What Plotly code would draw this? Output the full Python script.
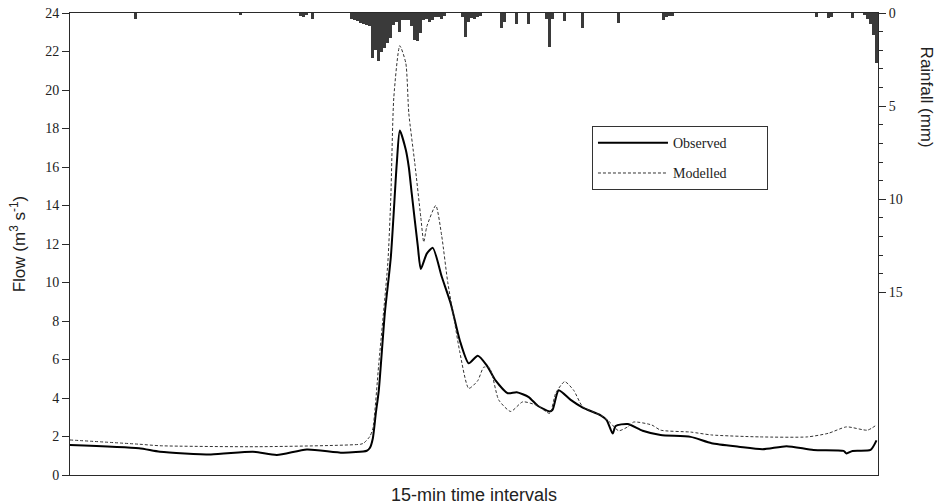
import plotly.graph_objects as go

# 15-min interval index and flow (m3/s)
obs_t = [0, 23, 30, 47, 61, 69, 79, 91, 99, 100, 101, 102, 103, 105, 107,
         109, 110, 112, 113, 114, 116, 117, 119, 121, 124, 127, 130, 133, 136, 139,
         142, 146, 149, 153, 156, 160, 161, 163, 167, 171, 177, 179, 181, 182, 186,
         191, 197, 207, 214, 223, 231, 239, 248, 258, 259, 261, 267, 269]
obs_flow = [1.56, 1.39, 1.21, 1.07, 1.21, 1.04, 1.33, 1.16, 1.26, 1.4, 1.9, 3.2, 4.4, 8.4, 11.3,
            16.2, 17.9, 16.9, 16.0, 14.6, 11.9, 10.7, 11.5, 11.8, 10.3, 8.9, 7.0, 5.8, 6.2, 5.7,
            4.9, 4.25, 4.3, 4.05, 3.6, 3.3, 3.4, 4.4, 3.9, 3.5, 3.1, 2.85, 2.15, 2.55, 2.65,
            2.3, 2.08, 1.98, 1.65, 1.47, 1.34, 1.5, 1.3, 1.25, 1.12, 1.25, 1.3, 1.8]

mod_t = [0, 23, 30, 63, 97, 98, 100, 101, 103, 106, 107, 108, 110, 112, 113,
         115, 117, 118, 119, 122, 124, 126, 128, 130, 133, 136, 138, 140, 143, 147,
         151, 156, 160, 162, 165, 168, 171, 177, 180, 183, 186, 188, 194, 197, 207,
         214, 230, 246, 253, 259, 266, 269]
mod_flow = [1.82, 1.6, 1.52, 1.47, 1.6, 1.66, 2.0, 2.4, 5.8, 11.0, 14.4, 19.6, 22.3, 21.4, 18.8,
            16.2, 13.4, 12.1, 12.9, 14.0, 12.4, 10.0, 8.2, 6.4, 4.5, 4.9, 5.6, 5.55, 3.9, 3.3,
            3.8, 3.6, 3.2, 4.25, 4.85, 4.4, 3.55, 3.1, 2.75, 2.3, 2.5, 2.75, 2.6, 2.33, 2.23,
            2.08, 1.98, 1.98, 2.17, 2.5, 2.33, 2.6]

# rainfall (mm) per interval, only non-zero intervals
rain_t = [22, 57, 77, 78, 79, 81, 94, 95, 96, 97, 98, 99, 100, 101, 102,
          103, 104, 105, 106, 107, 108, 109, 110, 111, 112, 113, 114, 115, 116, 117,
          118, 119, 120, 121, 122, 123, 124, 125, 131, 132, 133, 134, 135, 136, 137,
          144, 145, 149, 153, 159, 160, 161, 165, 171, 183, 198, 199, 200, 201, 249,
          253, 254, 261, 265, 266, 267, 268, 269]
rain_mm = [0.3, 0.1, 0.15, 0.2, 0.1, 0.3, 0.3, 0.4, 0.45, 0.55, 0.6, 0.65, 0.7, 2.4, 2.0,
           2.6, 2.1, 1.9, 1.6, 1.35, 0.65, 0.5, 1.0, 0.35, 0.4, 0.35, 0.7, 1.45, 1.5, 1.1,
           0.4, 0.3, 0.5, 0.4, 0.2, 0.2, 0.3, 0.15, 0.2, 1.3, 0.5, 0.25, 0.3, 0.2, 0.15,
           0.8, 0.5, 0.6, 0.6, 0.3, 1.8, 0.3, 0.45, 0.8, 0.55, 0.35, 0.2, 0.15, 0.15, 0.2,
           0.25, 0.2, 0.25, 0.1, 0.3, 0.6, 1.2, 2.7]

flow_ticks = list(range(0, 25, 2))
rain_ticks = [0, 5, 10, 15]
rain_minor = list(range(0, 16))

serif = "Liberation Serif, Times New Roman, serif"
sans = "Liberation Sans, Arial, sans-serif"
ink = "#2a2a2a"
pad = "&nbsp;" * 10

fig = go.Figure()
fig.add_trace(go.Bar(x=rain_t, y=rain_mm, yaxis="y2", width=1,
                     marker=dict(color="#3a3a3a", line=dict(width=0)),
                     showlegend=False, hoverinfo="skip"))
fig.add_trace(go.Scatter(x=obs_t, y=obs_flow, mode="lines", name="Observed" + pad,
                         line=dict(color="black", width=2, shape="spline", smoothing=0.6),
                         legendgroup="o"))
fig.add_trace(go.Scatter(x=mod_t, y=mod_flow, mode="lines", name="Modelled" + pad,
                         line=dict(color="#333", width=1, dash="3px,2px", shape="spline", smoothing=0.6),
                         legendgroup="m"))
# invisible trace so the minor-tick axis renders
fig.add_trace(go.Scatter(x=[None], y=[None], yaxis="y3", showlegend=False, hoverinfo="skip"))

fig.update_layout(
    width=944, height=504,
    margin=dict(l=70, r=66, t=13, b=29),
    plot_bgcolor="white", paper_bgcolor="white",
    bargap=0,
    xaxis=dict(range=[0, 269.5], showticklabels=False, ticks="", showgrid=False,
               zeroline=False, showline=True, mirror=True, linecolor=ink, linewidth=1,
               automargin=False),
    yaxis=dict(range=[0, 24], tickvals=flow_ticks, ticks="outside", ticklen=7,
               tickcolor=ink, showgrid=False, zeroline=False, showline=True,
               linecolor=ink, linewidth=1, automargin=False, ticklabeloverflow="allow",
               tickfont=dict(family=serif, size=14, color="#222")),
    yaxis2=dict(overlaying="y", side="right", range=[24.8, 0], tickvals=rain_ticks,
                ticks="outside", ticklen=7, tickcolor=ink, showgrid=False, zeroline=False,
                showline=True, linecolor=ink, linewidth=1, automargin=False,
                ticklabeloverflow="allow",
                tickfont=dict(family=serif, size=14, color="#222")),
    # minor rainfall ticks (0-15 mm only)
    yaxis3=dict(overlaying="y", side="right", range=[24.8, 0], tickvals=rain_minor,
                ticks="outside", ticklen=4, tickcolor=ink, showticklabels=False,
                showgrid=False, zeroline=False, showline=False, automargin=False),
    legend=dict(x=0.646, y=0.755, xanchor="left", yanchor="top",
                bordercolor="#333", borderwidth=1, bgcolor="white",
                font=dict(family=serif, size=14, color="#222"),
                tracegroupgap=9, itemwidth=70),
    showlegend=True,
)

fig.add_annotation(text="Flow (m<sup>3</sup> s<sup>-1</sup>)", xref="paper", yref="paper",
                   x=-0.064, y=0.5, xanchor="center", yanchor="middle", textangle=-90,
                   showarrow=False, font=dict(family=sans, size=17, color="#222"))
fig.add_annotation(text="Rainfall (mm)", xref="paper", yref="paper",
                   x=1.06, y=0.818, xanchor="center", yanchor="middle", textangle=90,
                   showarrow=False, font=dict(family=sans, size=17, color="#222"))
fig.add_annotation(text="15-min time intervals", xref="paper", yref="paper",
                   x=0.5, y=-0.017, xanchor="center", yanchor="top",
                   showarrow=False, font=dict(family=sans, size=18, color="#222"))

# drop the default body margin so the figure fills the window exactly
fig.write_html("out.html", config={"displayModeBar": False},
               post_script="document.body.style.margin='0';")
